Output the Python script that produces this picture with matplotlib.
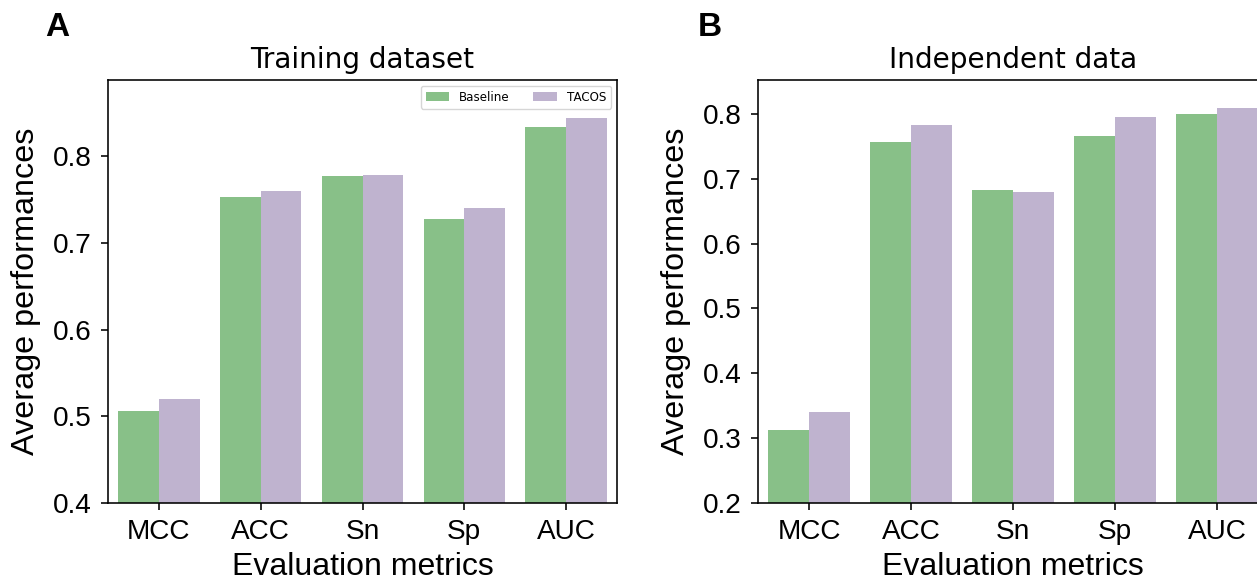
import matplotlib
matplotlib.use("Agg")
import matplotlib.pyplot as plt
import numpy as np

metrics = ["MCC", "ACC", "Sn", "Sp", "AUC"]
models = ["Baseline", "TACOS"]

train_baseline = [0.506, 0.753, 0.777, 0.728, 0.834]
train_tacos = [0.520, 0.760, 0.779, 0.740, 0.844]

indep_baseline = [0.313, 0.756, 0.683, 0.766, 0.799]
indep_tacos = [0.340, 0.782, 0.679, 0.795, 0.809]

colors = ["#88c088", "#bfb3cf"]
arial = "Liberation Sans"


def draw_panel(ax, baseline, tacos, title, ylim, yticks, legend=False):
    x = np.arange(len(metrics))
    w = 0.4
    ax.bar(x - w / 2, baseline, w, color=colors[0], label=models[0])
    ax.bar(x + w / 2, tacos, w, color=colors[1], label=models[1])
    ax.set_xlim(-0.5, len(metrics) - 0.5)
    ax.set_ylim(*ylim)
    ax.set_xticks(x)
    ax.set_xticklabels(metrics, family=arial, fontsize=20.2)
    ax.set_yticks(yticks)
    ax.set_yticklabels(["%.1f" % t for t in yticks], family=arial, fontsize=20.2)
    ax.tick_params(length=5, width=1.15, pad=6.5)
    for s in ax.spines.values():
        s.set_linewidth(1.15)
    ax.set_xlabel("Evaluation metrics", family=arial, fontsize=23, labelpad=5)
    ax.set_ylabel("Average performances", family=arial, fontsize=23.3, labelpad=9)
    ax.set_title(title, fontsize=20.2, pad=8.6)
    if legend:
        ax.legend(loc="upper right", ncol=2, fontsize=8.6, handlelength=2.0,
                  columnspacing=2.0, borderaxespad=0.5)


fig = plt.figure(figsize=(12.57, 5.82), dpi=100)
ax1 = fig.add_axes([0.0859, 0.1357, 0.405, 0.7268])
ax2 = fig.add_axes([0.603, 0.1357, 0.406, 0.7268])

draw_panel(ax1, train_baseline, train_tacos, "Training dataset",
           (0.4, 0.888), [0.4, 0.5, 0.6, 0.7, 0.8], legend=True)
draw_panel(ax2, indep_baseline, indep_tacos, "Independent data",
           (0.2, 0.852), [0.2, 0.3, 0.4, 0.5, 0.6, 0.7, 0.8])

fig.text(0.036, 0.979, "A", family=arial, weight="bold", fontsize=24, va="top")
fig.text(0.555, 0.979, "B", family=arial, weight="bold", fontsize=24, va="top")

fig.savefig("out.png", dpi=100)
